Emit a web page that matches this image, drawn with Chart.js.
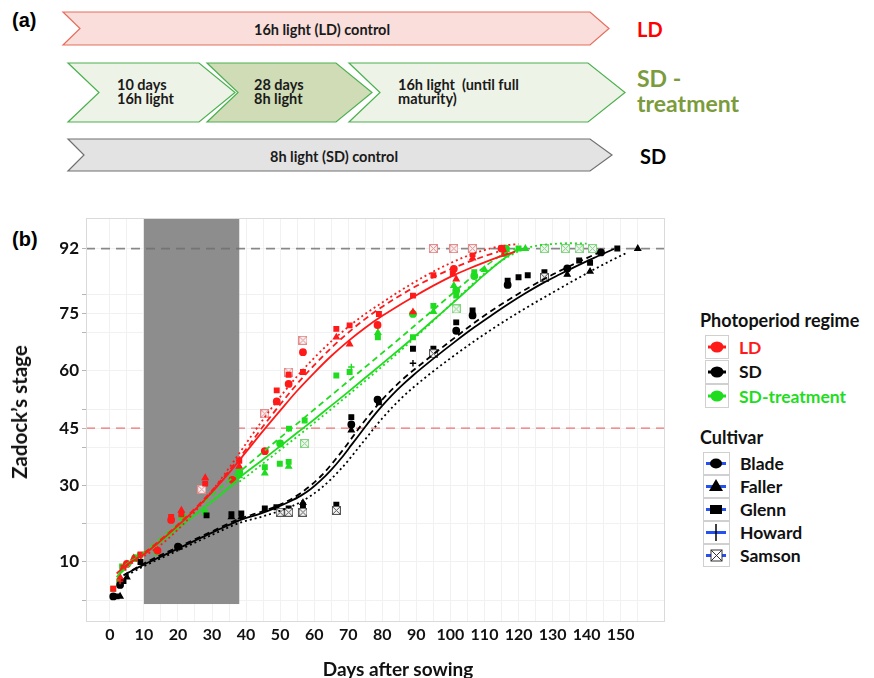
<!DOCTYPE html>
<html>
<head>
<meta charset="utf-8">
<script src="https://cdn.jsdelivr.net/npm/chart.js@4.4.1/dist/chart.umd.min.js"></script>
<style>
  body { margin: 0; background: #fff; font-family: Lato, "Open Sans", sans-serif; }
  #page { position: relative; width: 874px; height: 678px; overflow: hidden; }
  #panelA { position: absolute; left: 0; top: 0; }
  #panelA .tag { font: bold 20px "Liberation Sans", Arial, sans-serif; }
  #panelA .ch { font: bold 14.5px Lato, sans-serif; fill: #1a1a1a; }
  #panelA .rl { font: bold 20px Lato, sans-serif; }
  #panelA .ol { font: bold 23px Lato, sans-serif; fill: #7b9b3c; }
  #plotBox { position: absolute; left: 0; top: 200px; width: 690px; height: 478px; }
  .tagB { position: absolute; left: 12px; top: 228px; font: bold 20px "Liberation Sans", Arial, sans-serif; }
  #ytitle { position: absolute; left: 19px; top: 412px; transform: translate(-50%, -50%) rotate(-90deg);
            white-space: nowrap; font: bold 20.5px Lato, sans-serif; color: #111; }
  #xtitle { position: absolute; left: 398px; top: 668px; transform: translate(-50%, -50%);
            white-space: nowrap; font: bold 19px Lato, sans-serif; color: #111; }
  #legend { position: absolute; left: 700px; top: 308px; width: 174px; }
  #legend h4 { margin: 0; font: bold 18px Lato, sans-serif; color: #111; height: 24px; line-height: 24px; }
  .row { display: flex; align-items: center; }
  .row svg { display: block; }
  .row span { font: bold 17.5px Lato, sans-serif; margin-left: 10px; }
  .reg { margin-top: 3px; }
  .reg .row { height: 24.5px; margin-left: 5px; }
  .cul { margin-top: 3px; }
  .cul .row { height: 23px; margin-left: 3px; }
</style>
</head>
<body>
<div id="page">
  <svg id="panelA" width="874" height="200">
    <text class="tag" x="12" y="27">(a)</text>

    <polygon points="63,12 590,12 609,28.5 590,45 63,45 80,28.5" fill="#f9dedb" stroke="#e66e5a" stroke-width="1.2"/>
    <text class="ch" x="322" y="35" text-anchor="middle">16h light (LD) control</text>
    <text class="rl" x="637" y="37" fill="#ff0000">LD</text>

    <polygon points="68,63 199,63 235,92.5 199,122 68,122 99,92.5" fill="#eef3e7" stroke="#4cb050" stroke-width="1.2"/>
    <polygon points="207,63 336,63 372,92.5 336,122 207,122 238,92.5" fill="#cfdcb5" stroke="#4cb050" stroke-width="1.2"/>
    <polygon points="349,63 588,63 625,92.5 588,122 349,122 380,92.5" fill="#eef3e7" stroke="#4cb050" stroke-width="1.2"/>
    <text class="ch" x="117" y="90">10 days</text>
    <text class="ch" x="117" y="104">16h light</text>
    <text class="ch" x="254" y="90">28 days</text>
    <text class="ch" x="254" y="104">8h light</text>
    <text class="ch" x="398" y="90" xml:space="preserve">16h light  (until full</text>
    <text class="ch" x="398" y="104">maturity)</text>
    <text class="ol" x="637" y="87">SD -</text>
    <text class="ol" x="637" y="112">treatment</text>

    <polygon points="68,139 590,139 612,155 590,171 68,171 84,155" fill="#e3e3e3" stroke="#707070" stroke-width="1.2"/>
    <text class="ch" x="334" y="161.5" text-anchor="middle">8h light (SD) control</text>
    <text class="rl" x="640" y="164" fill="#000">SD</text>
  </svg>

  <div class="tagB">(b)</div>
  <div id="plotBox"><canvas id="zadoks" width="690" height="478"></canvas></div>
  <div id="ytitle">Zadock’s stage</div>
  <div id="xtitle">Days after sowing</div>

  <div id="legend">
    <h4>Photoperiod regime</h4>
    <div class="reg" id="regKeys"></div>
    <h4 style="margin-top:16px">Cultivar</h4>
    <div class="cul" id="culKeys"></div>
  </div>
</div>

<script>
// axis ticks
const xTicks = [0, 10, 20, 30, 40, 50, 60, 70, 80, 90, 100, 110, 120, 130, 140, 150];
const xMinor = [5, 15, 25, 35, 45, 55, 65, 75, 85, 95, 105, 115, 125, 135, 145, 155];
const yTicks = [10, 30, 45, 60, 75, 92];
const yMinor = [0, 20, 40, 50, 70, 80];

// 8h window of the SD-treatment, and the reference stages
const shadeDays = [10, 38];
const refStages = [92, 45];

const regimes = ['LD', 'SD', 'SD-treatment'];
const cultivars = ['Blade', 'Faller', 'Glenn', 'Howard', 'Samson'];

// fitted curves [day, stage]
const ldSolid = [[2, 7], [5, 9.3], [10, 12], [15, 15.6], [20, 19.5], [25, 23.7], [30, 28.3], [35, 33.3],
  [40, 38.8], [45, 44.3], [50, 49.6], [55, 54.8], [60, 59.5], [65, 63.9], [70, 67.8], [75, 71.3], [80, 74.4],
  [85, 77.2], [90, 79.8], [95, 82.3], [100, 84.6], [105, 86.6], [110, 88.4], [115, 90], [119, 91.2]];
const ldDash = [[3, 8], [10, 12.3], [15, 15.9], [20, 19.8], [25, 24], [30, 28.7], [35, 33.9], [40, 39.5],
  [45, 45.5], [50, 51.2], [55, 56.6], [60, 61.5], [65, 66], [70, 70], [75, 73.6], [80, 76.8], [85, 79.6],
  [90, 82.2], [95, 84.5], [100, 86.6], [105, 88.4], [110, 90], [114, 91.2]];
const ldDot = [[5, 9], [10, 11.5], [15, 14.5], [20, 18.5], [25, 23.2], [30, 28.6], [35, 34.6], [40, 41],
  [45, 47.3], [50, 53.2], [55, 58.6], [60, 63.4], [65, 67.7], [70, 71.5], [75, 74.9], [80, 77.9], [85, 80.8],
  [90, 83.5], [95, 86], [100, 88.2], [105, 90.1], [110, 91.6], [115, 92.7], [120, 93.2]];

const sdSolid = [[4.5, 6.8], [10, 9.3], [15, 11.4], [20, 13.5], [25, 15.6], [30, 17.7], [35, 19.7], [38, 20.9],
  [44, 22.6], [49, 24.3], [53, 25.9], [56, 27.3], [59, 29.1], [62, 31.4], [65, 34.1], [68, 37.2], [71, 40.7],
  [74, 44.2], [77, 47.7], [80, 50.9], [83, 53.8], [86, 56.4], [89, 58.8], [95, 63.2], [101, 67.4],
  [107, 71.4], [112, 74.5], [117, 77.5], [122, 80.3], [127, 82.9], [132, 85.2], [137, 87.4], [142, 89.5],
  [148, 91.9]];
const sdDash = [[4, 6.5], [10, 9.6], [20, 13.9], [30, 18], [38, 21.3], [44, 23], [50, 25], [56, 28],
  [62, 32.5], [68, 38.8], [74, 46], [80, 52.5], [86, 57.8], [92, 62.2], [100, 67.8], [110, 74.5],
  [120, 80.2], [130, 85.2], [140, 89.5], [145, 91.5]];
const sdDot = [[5, 6.5], [10, 8.9], [20, 13], [30, 17.1], [38, 20.2], [44, 21.7], [50, 23.4], [56, 25.7],
  [62, 29.3], [68, 34.5], [74, 41], [80, 47.6], [86, 53.2], [92, 57.8], [100, 63.3], [110, 69.6],
  [120, 75.3], [130, 80.5], [140, 85.5], [147, 88.8], [152, 91]];

const sdtSolid = [[2, 6], [5, 9.5], [10, 12], [15, 15.3], [20, 18.8], [25, 22.3], [30, 25.8], [35, 29.5],
  [38, 32], [45, 36.8], [50, 40.3], [55, 43.8], [60, 47.3], [65, 50.9], [70, 54.5], [75, 58.2], [80, 61.9],
  [85, 65.6], [90, 69.4], [95, 73.3], [100, 77.2], [105, 81.2], [110, 85.2], [115, 88.9], [120, 92]];
const sdtDash = [[3, 7], [10, 12.5], [15, 16.2], [20, 20], [25, 23.7], [30, 27.5], [35, 31.3], [38, 33.5],
  [45, 38.8], [50, 42.5], [55, 46.2], [60, 49.9], [65, 53.6], [70, 57.3], [75, 61], [80, 64.7], [85, 68.4],
  [90, 72.2], [95, 76], [100, 79.8], [105, 83.6], [110, 87.2], [115, 90.3], [119, 92]];
const sdtDot = [[10, 12], [15, 15.4], [20, 19], [25, 22.5], [30, 26], [35, 29.4], [38, 31], [45, 35.8],
  [50, 39.3], [55, 42.8], [60, 46.4], [65, 50], [70, 53.7], [75, 57.4], [80, 61.2], [85, 65], [90, 69],
  [95, 73.1], [100, 77.3], [105, 81.5], [110, 85.5], [115, 88.8], [120, 91.3], [125, 92.7], [130, 93.2],
  [135, 93.4], [140, 93.3]];

// observations [day, stage, cultivar]
const ldObs = [[1, 3, 'Glenn'], [3, 6, 'Faller'], [3, 5, 'Howard'], [4, 8.5, 'Glenn'], [5, 9.5, 'Blade'],
  [7, 11, 'Faller'], [9, 12, 'Glenn'], [14, 13, 'Blade'], [18, 21.8, 'Glenn'], [18, 21, 'Blade'],
  [21, 23.5, 'Faller'], [21, 22.5, 'Glenn'], [27, 29, 'Samson'], [28, 32, 'Faller'], [28, 30.5, 'Glenn'],
  [36, 31.5, 'Blade'], [38, 36.5, 'Glenn'], [38, 35, 'Faller'], [45.5, 39, 'Blade'], [45.5, 48.8, 'Samson'],
  [49, 54.9, 'Glenn'], [49, 52, 'Blade'], [52.5, 59.7, 'Samson'], [52.5, 59, 'Glenn'], [52.5, 56.6, 'Blade'],
  [56.7, 68, 'Samson'], [56.7, 64.9, 'Blade'], [56.7, 59.7, 'Glenn'], [66.5, 71, 'Glenn'], [66.5, 68.8, 'Faller'],
  [70.4, 71.9, 'Glenn'], [70.4, 67, 'Faller'], [78.6, 72, 'Blade'], [79, 74.9, 'Glenn'], [89, 79.7, 'Glenn'],
  [89, 75.4, 'Faller'], [95, 85, 'Glenn'], [100.7, 85.5, 'Glenn'], [101, 86.7, 'Blade'], [101.7, 84, 'Faller'],
  [95, 92, 'Samson'], [101, 92, 'Samson'], [106.5, 90.6, 'Glenn'], [106.5, 89.5, 'Faller'],
  [106.5, 92, 'Samson'], [115, 92, 'Blade'], [116, 91, 'Faller']];
const sdObs = [[1, 1, 'Blade'], [2, 1, 'Glenn'], [3, 1, 'Faller'], [3, 4, 'Blade'], [4, 5, 'Glenn'],
  [5, 6, 'Faller'], [9, 10, 'Glenn'], [20, 14, 'Blade'], [28.4, 22.2, 'Glenn'], [35.7, 22.5, 'Glenn'],
  [35.7, 21.8, 'Faller'], [38.6, 22.7, 'Glenn'], [38.6, 21.8, 'Faller'], [45.5, 24, 'Glenn'], [48.9, 24.3, 'Glenn'],
  [50, 23, 'Samson'], [52.5, 24, 'Glenn'], [52.5, 23, 'Samson'], [56.7, 24.8, 'Glenn'], [56.7, 25.5, 'Faller'],
  [56.7, 23, 'Samson'], [66.5, 25, 'Glenn'], [66.5, 23.5, 'Samson'], [70.9, 47.9, 'Glenn'], [70.9, 46, 'Blade'],
  [70.9, 44.5, 'Faller'], [79, 51.8, 'Glenn'], [78.6, 52.5, 'Blade'], [89, 65.8, 'Glenn'], [89, 62, 'Howard'],
  [95, 65.8, 'Glenn'], [95, 64.5, 'Samson'], [101.7, 72.7, 'Glenn'], [101.7, 70.5, 'Blade'], [106.5, 75.8, 'Glenn'],
  [106.5, 74.5, 'Blade'], [116.8, 83.6, 'Glenn'], [116.8, 82.5, 'Blade'], [120, 84.5, 'Glenn'], [122.7, 85, 'Glenn'],
  [127.6, 85.8, 'Glenn'], [127.6, 84.5, 'Samson'], [134.3, 86.8, 'Blade'], [134.3, 85.2, 'Faller'],
  [137.8, 88.9, 'Glenn'], [141, 88.3, 'Glenn'], [141, 86, 'Faller'], [144.2, 91, 'Blade'], [149, 92, 'Glenn'],
  [155, 92, 'Faller']];
const sdtObs = [[1, 3, 'Glenn'], [3, 5, 'Blade'], [3.6, 8.8, 'Glenn'], [5, 9.5, 'Faller'], [7.4, 11, 'Blade'],
  [8.8, 11.7, 'Glenn'], [13.7, 12.6, 'Glenn'], [18, 21.8, 'Glenn'], [21.3, 21.8, 'Blade'], [27.9, 23, 'Glenn'],
  [35.7, 31.8, 'Glenn'], [38, 33.5, 'Blade'], [38, 32.5, 'Faller'], [45.5, 34.8, 'Glenn'], [45.5, 33.2, 'Faller'],
  [49.9, 35.7, 'Glenn'], [50, 41, 'Blade'], [52.5, 36.2, 'Glenn'], [52.5, 35, 'Faller'], [52.6, 44.9, 'Glenn'],
  [57.2, 41, 'Samson'], [57.2, 47, 'Glenn'], [66.5, 58.8, 'Glenn'], [70.4, 59.7, 'Glenn'], [70.9, 61, 'Howard'],
  [78.7, 68.8, 'Glenn'], [78.7, 70, 'Faller'], [89, 68.8, 'Glenn'], [89, 74.9, 'Blade'], [95, 77, 'Glenn'],
  [95, 75.5, 'Faller'], [101.7, 76.2, 'Samson'], [101.7, 79.7, 'Glenn'], [101.7, 81, 'Blade'], [101, 82.3, 'Faller'],
  [107, 85.8, 'Glenn'], [107, 84.8, 'Blade'], [110, 86.5, 'Faller'], [115.8, 90.6, 'Glenn'], [116.3, 92, 'Blade'],
  [120, 92, 'Glenn'], [122, 92, 'Faller'], [127.6, 92, 'Samson'], [133.8, 92, 'Samson'], [137.8, 92, 'Samson'],
  [141.7, 92, 'Samson']];

const RED = '#ff1a1a', BLACK = '#000000', GREEN = '#1fdc1f';

// boxed cross used for Samson
function boxedX(color) {
  const c = document.createElement('canvas');
  c.width = 9; c.height = 9;
  const g = c.getContext('2d');
  g.fillStyle = '#f4f4f4';
  g.fillRect(0, 0, 9, 9);
  g.strokeStyle = color;
  g.lineWidth = 1;
  g.strokeRect(0.5, 0.5, 8, 8);
  g.beginPath();
  g.moveTo(1, 1); g.lineTo(8, 8);
  g.moveTo(8, 1); g.lineTo(1, 8);
  g.stroke();
  return c;
}

const shapeOf = { Blade: 'circle', Faller: 'triangle', Glenn: 'rect', Howard: 'cross' };

function curve(pts, color, dash) {
  return {
    data: pts.map(p => ({ x: p[0], y: p[1] })),
    showLine: true,
    borderColor: color,
    borderWidth: 1.8,
    borderDash: dash,
    pointRadius: 0,
    cubicInterpolationMode: 'monotone',
    fill: false
  };
}

function observations(rows, color, samsonColor) {
  const sam = boxedX(samsonColor);
  return {
    data: rows.map(r => ({ x: r[0], y: r[1] })),
    pointStyle: rows.map(r => r[2] === 'Samson' ? sam : shapeOf[r[2]]),
    pointRadius: rows.map(r => r[2] === 'Samson' ? 4 : 3.2),
    backgroundColor: color,
    borderColor: color,
    borderWidth: 1.4,
    showLine: false
  };
}

const overlay = {
  id: 'overlay',
  beforeDatasetsDraw(chart) {
    const { ctx, chartArea: a, scales: { x, y } } = chart;
    ctx.save();
    // red dashed reference
    ctx.strokeStyle = '#f07272';
    ctx.lineWidth = 1.2;
    ctx.setLineDash([9, 6]);
    ctx.beginPath();
    ctx.moveTo(a.left, y.getPixelForValue(refStages[1]));
    ctx.lineTo(a.right, y.getPixelForValue(refStages[1]));
    ctx.stroke();
    // shaded short-day window
    const x0 = x.getPixelForValue(shadeDays[0]), x1 = x.getPixelForValue(shadeDays[1]);
    const yb = y.getPixelForValue(-1);
    ctx.fillStyle = '#8d8d8d';
    ctx.fillRect(x0, a.top, x1 - x0, yb - a.top);
    // grey dashed reference
    ctx.strokeStyle = 'rgba(110,110,110,0.8)';
    ctx.lineWidth = 1.6;
    ctx.beginPath();
    ctx.moveTo(a.left, y.getPixelForValue(refStages[0]));
    ctx.lineTo(a.right, y.getPixelForValue(refStages[0]));
    ctx.stroke();
    ctx.restore();
  },
  afterDraw(chart) {
    const { ctx, chartArea: a } = chart;
    ctx.save();
    ctx.strokeStyle = '#dadada';
    ctx.lineWidth = 1;
    ctx.strokeRect(a.left + 0.5, a.top + 0.5, a.right - a.left - 1, a.bottom - a.top - 1);
    ctx.restore();
  }
};

const tickFont = { family: 'Lato', weight: 'bold', size: 16 };

new Chart(document.getElementById('zadoks'), {
  type: 'scatter',
  data: {
    datasets: [
      curve(ldSolid, RED, []), curve(ldDash, RED, [6, 4]), curve(ldDot, RED, [2, 3]),
      curve(sdSolid, BLACK, []), curve(sdDash, BLACK, [6, 4]), curve(sdDot, BLACK, [2, 3]),
      curve(sdtSolid, GREEN, []), curve(sdtDash, GREEN, [6, 4]), curve(sdtDot, GREEN, [2, 3]),
      observations(ldObs, RED, '#e98a8a'),
      observations(sdObs, BLACK, '#555555'),
      observations(sdtObs, GREEN, '#7fd67f')
    ]
  },
  options: {
    responsive: false,
    animation: false,
    layout: { padding: { top: 18, right: 25, left: 0, bottom: 0 } },
    plugins: { legend: { display: false }, tooltip: { enabled: false } },
    scales: {
      x: {
        type: 'linear', min: -7, max: 163,
        afterBuildTicks: s => { s.ticks = xTicks.concat(xMinor).sort((a, b) => a - b).map(v => ({ value: v })); },
        afterFit: s => { s.height = 56; },
        ticks: { callback: v => xTicks.includes(v) ? v : '', font: tickFont, color: '#111', padding: 3, maxRotation: 0, autoSkip: false },
        grid: { color: '#f1f1f1', drawTicks: false },
        border: { display: false }
      },
      y: {
        type: 'linear', min: -5.7, max: 100,
        afterBuildTicks: s => { s.ticks = yMinor.concat(yTicks).sort((a, b) => a - b).map(v => ({ value: v })); },
        afterFit: s => { s.width = 86; },
        ticks: { callback: v => yTicks.includes(v) ? v : '', font: { family: 'Lato', weight: 'bold', size: 17 }, color: '#111', padding: 3, autoSkip: false },
        grid: { color: '#f1f1f1', tickLength: 4, tickColor: '#b5b5b5' },
        border: { display: false }
      }
    }
  },
  plugins: [overlay]
});

// legend keys
const regColors = [RED, BLACK, GREEN];
const regKeys = document.getElementById('regKeys');
regimes.forEach((name, i) => {
  const col = regColors[i];
  regKeys.insertAdjacentHTML('beforeend',
    `<div class="row"><svg width="24" height="24"><rect x="0.5" y="0.5" width="23" height="23" fill="#fff" stroke="#d0d0d0"/>` +
    `<line x1="3" y1="12" x2="21" y2="12" stroke="${col}" stroke-width="3"/><ellipse cx="12" cy="12" rx="6.5" ry="5.5" fill="${col}"/></svg>` +
    `<span style="color:${i === 1 ? '#111' : col}">${name}</span></div>`);
});

const culMarks = {
  Blade: '<ellipse cx="13" cy="11.5" rx="6" ry="5" fill="#000"/>',
  Faller: '<polygon points="13,4 20,16 6,16" fill="#000"/>',
  Glenn: '<rect x="7" y="7" width="12" height="9" fill="#000"/>',
  Howard: '<line x1="13" y1="3" x2="13" y2="20" stroke="#000" stroke-width="1.5"/>',
  Samson: '<rect x="8" y="6" width="11" height="11" fill="#fff" stroke="#333"/><path d="M8 6 L19 17 M19 6 L8 17" stroke="#333"/>'
};
const culKeys = document.getElementById('culKeys');
cultivars.forEach(name => {
  culKeys.insertAdjacentHTML('beforeend',
    `<div class="row"><svg width="27" height="23"><rect x="0.5" y="0.5" width="26" height="22" fill="#fff" stroke="#d0d0d0"/>` +
    `<line x1="3" y1="11.5" x2="23" y2="11.5" stroke="#2451f0" stroke-width="3"/>${culMarks[name]}</svg>` +
    `<span style="color:#111">${name}</span></div>`);
});
</script>
</body>
</html>
